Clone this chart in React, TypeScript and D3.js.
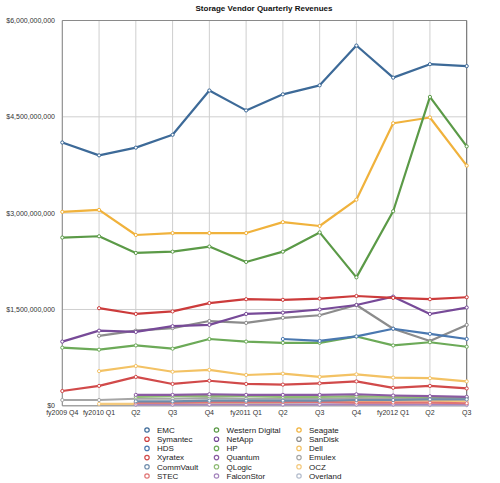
import React from "react";
import * as d3 from "d3";

const categories = ["fy2009 Q4", "fy2010 Q1", "Q2", "Q3", "Q4", "fy2011 Q1", "Q2", "Q3", "Q4", "fy2012 Q1", "Q2", "Q3"];
const yTicks = [0, 1.5e9, 3e9, 4.5e9, 6e9];
const title = "Storage Vendor Quarterly Revenues";

// values in billions of dollars (null = no data)
const emc = [4.10, 3.90, 4.02, 4.22, 4.91, 4.60, 4.85, 4.99, 5.61, 5.11, 5.32, 5.29];
const symantec = [null, 1.52, 1.43, 1.47, 1.60, 1.66, 1.65, 1.67, 1.71, 1.68, 1.66, 1.69];
const hds = [null, null, null, null, null, null, 1.04, 1.01, 1.08, 1.20, 1.12, 1.04];
const xyratex = [0.23, 0.31, 0.45, 0.34, 0.39, 0.34, 0.33, 0.35, 0.38, 0.28, 0.31, 0.27];
const commvault = [null, null, 0.07, 0.07, 0.08, 0.08, 0.08, 0.08, 0.09, 0.09, 0.10, 0.10];
const stec = [null, null, 0.05, 0.05, 0.06, 0.06, 0.06, 0.06, 0.05, 0.05, 0.05, 0.04];
const westernDigital = [2.62, 2.64, 2.38, 2.40, 2.48, 2.24, 2.40, 2.70, 2.00, 3.03, 4.81, 4.04];
const netapp = [1.00, 1.17, 1.15, 1.24, 1.26, 1.43, 1.45, 1.50, 1.57, 1.70, 1.43, 1.53];
const hp = [0.905, 0.874, 0.94, 0.89, 1.04, 1.00, 0.98, 0.98, 1.08, 0.94, 0.99, 0.92];
const quantum = [null, null, 0.17, 0.17, 0.18, 0.17, 0.17, 0.17, 0.18, 0.16, 0.15, 0.14];
const qlogic = [null, null, 0.14, 0.15, 0.15, 0.15, 0.14, 0.14, 0.15, 0.14, 0.13, 0.13];
const falconstor = [null, null, 0.02, 0.02, 0.02, 0.02, 0.02, 0.02, 0.02, 0.02, 0.02, 0.02];
const seagate = [3.02, 3.05, 2.66, 2.69, 2.69, 2.69, 2.86, 2.80, 3.21, 4.40, 4.49, 3.74];
const sandisk = [null, 1.09, 1.17, 1.21, 1.32, 1.29, 1.37, 1.41, 1.57, 1.20, 1.01, 1.26];
const dell = [null, 0.54, 0.62, 0.53, 0.56, 0.48, 0.50, 0.45, 0.49, 0.44, 0.43, 0.38];
const emulex = [0.09, 0.09, 0.11, 0.11, 0.12, 0.11, 0.11, 0.11, 0.12, 0.11, 0.11, 0.11];
const ocz = [null, 0.03, 0.03, 0.03, 0.04, 0.04, 0.05, 0.06, 0.07, 0.08, 0.08, 0.07];
const overland = [null, null, 0.02, 0.02, 0.02, 0.02, 0.02, 0.02, 0.02, 0.02, 0.01, 0.01];

const seriesNames = ["EMC", "Symantec", "HDS", "Xyratex", "CommVault", "STEC", "Western Digital", "NetApp", "HP", "Quantum", "QLogic", "FalconStor", "Seagate", "SanDisk", "Dell", "Emulex", "OCZ", "Overland"];
const seriesValues = [emc, symantec, hds, xyratex, commvault, stec, westernDigital, netapp, hp, quantum, qlogic, falconstor, seagate, sandisk, dell, emulex, ocz, overland];
const seriesColors = ["#3d6a98", "#cc3b3b", "#4a78b0", "#d14a4a", "#6f8cab", "#e07474", "#5b9a47", "#774a98", "#6caa58", "#8a5aa2", "#8fbb74", "#a585bd", "#f0b23c", "#8c8c8c", "#f3c264", "#a6a6a6", "#f4c97c", "#b3bccc"];

const W = 500;
const H = 483;
const plot = { left: 62.3, right: 466.7, top: 20.5, bottom: 405.8 };
const font = "'Liberation Sans', Arial, Helvetica, sans-serif";

export default function App() {
  const x = d3.scalePoint<number>().domain(categories.map((_, i) => i)).range([plot.left, plot.right]);
  const y = d3.scaleLinear().domain([0, 6e9]).range([plot.bottom, plot.top]);
  const fmt = (v: number) => "$" + d3.format(",")(v);
  const line = d3
    .line<number | null>()
    .defined((d) => d !== null)
    .x((_, i) => x(i) as number)
    .y((d) => y((d as number) * 1e9));

  const drawOrder = seriesNames.map((_, i) => i).reverse();

  return (
    <div style={{ position: "absolute", left: 0, top: 0 }}>
      <svg width={W} height={H} style={{ display: "block", background: "#fff" }} fontFamily={font}>
        <text x={264} y={11} textAnchor="middle" fontSize={8} fontWeight="bold" fill="#111">
          {title}
        </text>
        {/* vertical grid */}
        {categories.map((_, i) => (
          <line key={"vg" + i} x1={x(i)} x2={x(i)} y1={plot.top} y2={plot.bottom} stroke="#cfcfcf" strokeWidth={1} />
        ))}
        {/* horizontal grid */}
        {yTicks.map((t) => (
          <line key={"hg" + t} x1={plot.left} x2={plot.right} y1={y(t)} y2={y(t)} stroke="#cfcfcf" strokeWidth={1} />
        ))}
        {/* frame */}
        <line x1={plot.left} x2={plot.right} y1={plot.top} y2={plot.top} stroke="#8a8a8a" strokeWidth={1} />
        <line x1={plot.left} x2={plot.left} y1={plot.top} y2={plot.bottom} stroke="#8a8a8a" strokeWidth={1} />
        <line x1={plot.right} x2={plot.right} y1={plot.top} y2={plot.bottom} stroke="#6a6a6a" strokeWidth={1} />
        <line x1={plot.left} x2={plot.right} y1={plot.bottom} y2={plot.bottom} stroke="#8a8a8a" strokeWidth={1} />
        {/* y tick labels */}
        {yTicks.map((t) => (
          <text key={"yt" + t} x={55} y={y(t) + 2.5} textAnchor="end" fontSize={7} fill="#333">
            {fmt(t)}
          </text>
        ))}
        {/* x tick labels */}
        {categories.map((c, i) => (
          <text key={"xt" + i} x={x(i)} y={415} textAnchor="middle" fontSize={7} fill="#333">
            {c}
          </text>
        ))}
        {/* series */}
        {drawOrder.map((si) => (
          <g key={"s" + si}>
            <path d={line(seriesValues[si]) || ""} fill="none" stroke={seriesColors[si]} strokeWidth={2.2} strokeLinejoin="round" />
            {seriesValues[si].map((v, i) =>
              v === null ? null : (
                <circle key={i} cx={x(i)} cy={y(v * 1e9)} r={1.6} fill="#fff" stroke={seriesColors[si]} strokeWidth={1} />
              )
            )}
          </g>
        ))}
        {/* legend */}
        {seriesNames.map((name, i) => {
          const col = Math.floor(i / 6);
          const row = i % 6;
          const mx = [147, 216.5, 299][col];
          const my = 430 + row * 9.2;
          return (
            <g key={"lg" + i}>
              <circle cx={mx} cy={my} r={2.2} fill="#fff" stroke={seriesColors[i]} strokeWidth={1.2} />
              <text x={mx + 10} y={my + 2.8} fontSize={8} fill="#222">
                {name}
              </text>
            </g>
          );
        })}
      </svg>
    </div>
  );
}
